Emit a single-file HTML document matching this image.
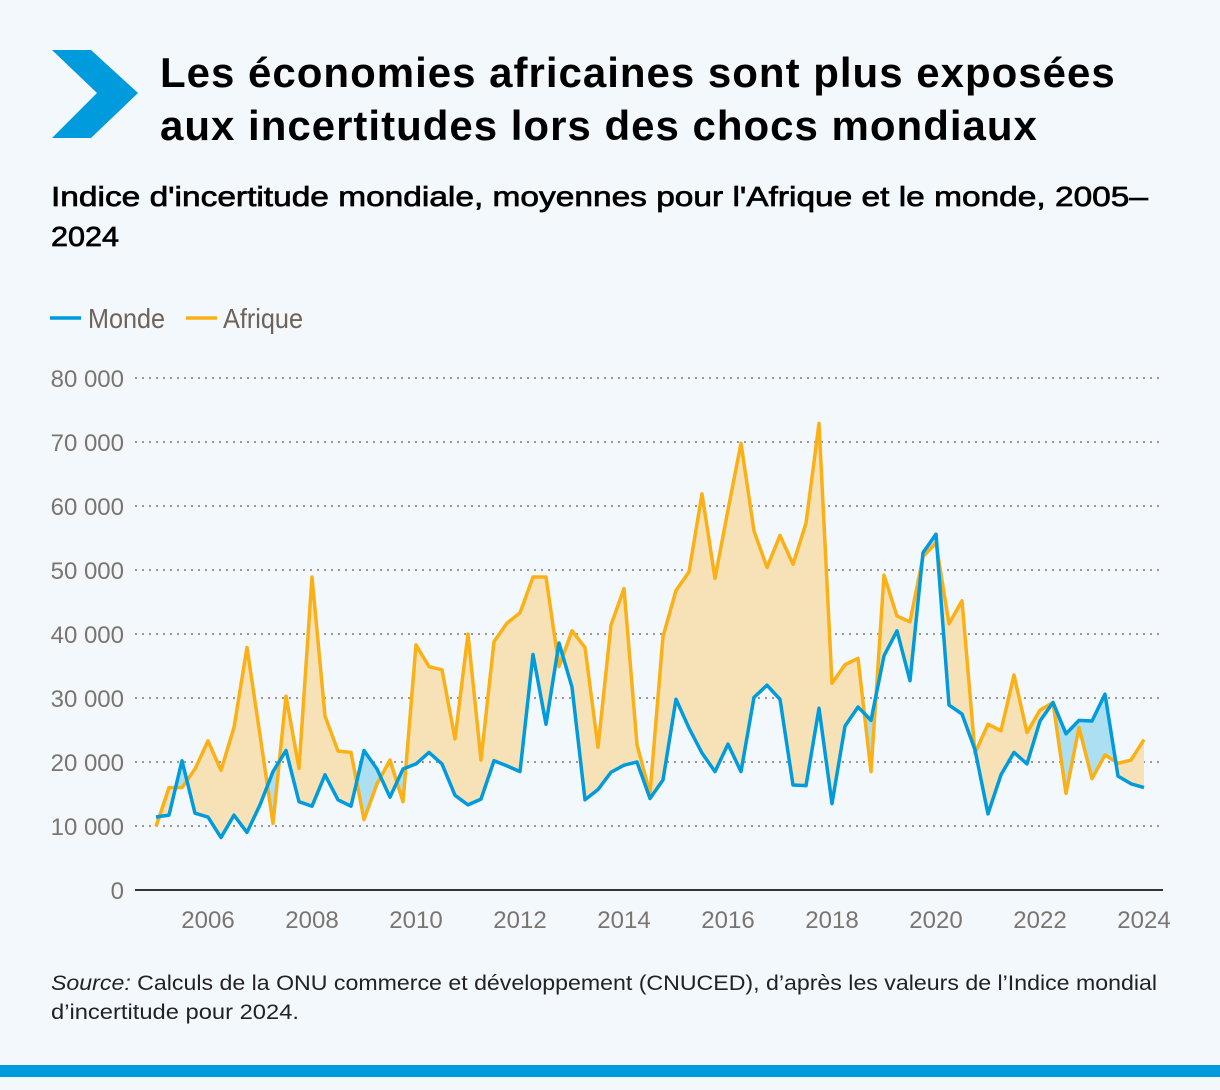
<!DOCTYPE html>
<html><head><meta charset="utf-8">
<style>
html,body{margin:0;padding:0;}
body{width:1220px;height:1090px;background:#f3f8fc;font-family:"Liberation Sans",sans-serif;position:relative;overflow:hidden;}
.title{position:absolute;left:160px;top:46px;font-size:42px;font-weight:bold;line-height:53px;color:#000;letter-spacing:1px;white-space:nowrap;}
.bar{position:absolute;left:0;top:1065px;width:1220px;height:12px;background:#009bdc;}
</style></head>
<body>
<svg style="position:absolute;left:0;top:0" width="150" height="150"><polygon points="52,50 91,50 138,93 91,138 52,138 97,93" fill="#009bdc"/></svg>
<div class="title">Les économies africaines sont plus exposées<br>aux incertitudes lors des chocs mondiaux</div>
<svg style="position:absolute;left:0;top:170px" width="1220" height="90"><text x="51" y="36" font-size="28" textLength="1097" lengthAdjust="spacingAndGlyphs" fill="#000" font-family="Liberation Sans, sans-serif" stroke="#000" stroke-width="0.7">Indice d'incertitude mondiale, moyennes pour l'Afrique et le monde, 2005–</text><text x="51" y="76" font-size="28" textLength="68" lengthAdjust="spacingAndGlyphs" fill="#000" font-family="Liberation Sans, sans-serif" stroke="#000" stroke-width="0.7">2024</text></svg>
<svg id="chart" style="position:absolute;left:0;top:0" width="1220" height="960"></svg>
<svg style="position:absolute;left:0;top:960px" width="1220" height="70"><text x="51" y="30" font-size="21" textLength="1106" lengthAdjust="spacingAndGlyphs" fill="#222" font-family="Liberation Sans, sans-serif"><tspan font-style="italic">Source:</tspan> Calculs de la ONU commerce et développement (CNUCED), d’après les valeurs de l’Indice mondial</text><text x="51" y="59" font-size="21" textLength="248" lengthAdjust="spacingAndGlyphs" fill="#222" font-family="Liberation Sans, sans-serif">d’incertitude pour 2024.</text></svg>
<div class="bar"></div>
<script>
const monde=[11.4,11.7,20.2,12.0,11.4,8.2,11.7,9.0,13.3,18.5,21.8,13.8,13.1,18.0,14.1,13.1,21.8,18.9,14.5,18.9,19.7,21.5,19.7,14.8,13.3,14.2,20.2,19.4,18.5,36.8,25.9,38.6,31.7,14.1,15.7,18.4,19.5,20.0,14.3,17.2,29.8,25.3,21.4,18.5,22.8,18.5,30.1,32.0,29.8,16.4,16.3,28.4,13.5,25.6,28.6,26.5,36.6,40.5,32.7,52.7,55.6,28.9,27.5,21.9,11.9,18.0,21.5,19.7,26.4,29.3,24.4,26.5,26.4,30.6,17.8,16.6,16.0];
const afrique=[9.9,16.0,16.0,18.9,23.3,18.7,25.4,37.9,24.2,10.4,30.3,19.0,48.9,27.2,21.7,21.5,11.0,16.6,20.3,13.8,38.3,34.9,34.4,23.6,40.0,20.3,38.8,41.7,43.3,48.9,48.9,34.9,40.5,37.9,22.3,41.4,47.1,22.7,15.1,39.6,46.8,49.7,61.9,48.7,59.4,69.8,56.1,50.4,55.4,50.9,57.3,72.9,32.3,35.2,36.2,18.5,49.2,42.8,41.9,52.1,54.2,41.6,45.2,21.4,25.9,24.9,33.6,24.6,28.1,29.3,15.1,25.4,17.4,21.1,19.8,20.3,23.5];
const yTicks=[0,10,20,30,40,50,60,70,80];
const yTickLabels=["0","10 000","20 000","30 000","40 000","50 000","60 000","70 000","80 000"];
const xTicks=[2006,2008,2010,2012,2014,2016,2018,2020,2022,2024];
const startYear=2005;
const NS="http://www.w3.org/2000/svg";
const svg=document.getElementById('chart');
const X=i=>156+i*(1144-156)/76;
const XY=yr=>156+(yr-startYear)*52;
const Y=v=>890-v*6.4;
function mk(t,a,p){const e=document.createElementNS(NS,t);for(const k in a)e.setAttribute(k,a[k]);(p||svg).appendChild(e);return e;}
const FF='"Liberation Sans Narrow","Liberation Sans",sans-serif';
let g=mk('g',{});


let l1=mk('line',{x1:50,y1:318,x2:81,y2:318,stroke:'#009bdc','stroke-width':3.5},g);


let t1=mk('text',{x:88,y:328,'font-size':28,fill:'#6e6259','font-family':FF,textLength:77,lengthAdjust:'spacingAndGlyphs'},g);t1.textContent='Monde';


let l2=mk('line',{x1:186,y1:318,x2:217,y2:318,stroke:'#fbb116','stroke-width':3.5},g);


let t2=mk('text',{x:223,y:328,'font-size':28,fill:'#6e6259','font-family':FF,textLength:80,lengthAdjust:'spacingAndGlyphs'},g);t2.textContent='Afrique';


yTicks.forEach((v,i)=>{
 if(v>0){const gl=mk('line',{x1:135,x2:1163,y1:Y(v),y2:Y(v),stroke:'#a09890','stroke-width':2,'stroke-dasharray':'2,5'});
 
 }
 const t=mk('text',{x:124,y:Y(v)+9,'text-anchor':'end','font-size':24,fill:'#7b7570','font-family':FF});
 t.textContent=yTickLabels[i];
 
 
});
xTicks.forEach(yr=>{
 const t=mk('text',{x:XY(yr),y:928,'text-anchor':'middle','font-size':24,fill:'#7b7570','font-family':FF});
 t.textContent=yr;
 
 
});
const pm=monde.map((v,i)=>X(i)+','+Y(v));
const pa=afrique.map((v,i)=>X(i)+','+Y(v));
const betw=pa.concat(pm.slice().reverse()).join(' ');
const defs=mk('defs',{});
const c1=mk('clipPath',{id:'aboveM'},defs);
mk('polygon',{points:pm.join(' ')+' '+X(76)+',0 '+X(0)+',0'},c1);
const c2=mk('clipPath',{id:'aboveA'},defs);
mk('polygon',{points:pa.join(' ')+' '+X(76)+',0 '+X(0)+',0'},c2);
const f1=mk('polygon',{points:betw,fill:'#f6e2b6','clip-path':'url(#aboveM)'});


const f2=mk('polygon',{points:betw,fill:'#addff2','clip-path':'url(#aboveA)'});


const ax=mk('line',{x1:135,x2:1163,y1:890,y2:890,stroke:'#333','stroke-width':2});


const la=mk('polyline',{points:pa.join(' '),fill:'none',stroke:'#fbb116','stroke-width':3.5,'stroke-linejoin':'round'});


const lm=mk('polyline',{points:pm.join(' '),fill:'none',stroke:'#009bdc','stroke-width':3.5,'stroke-linejoin':'round'});


</script>
</body></html>
